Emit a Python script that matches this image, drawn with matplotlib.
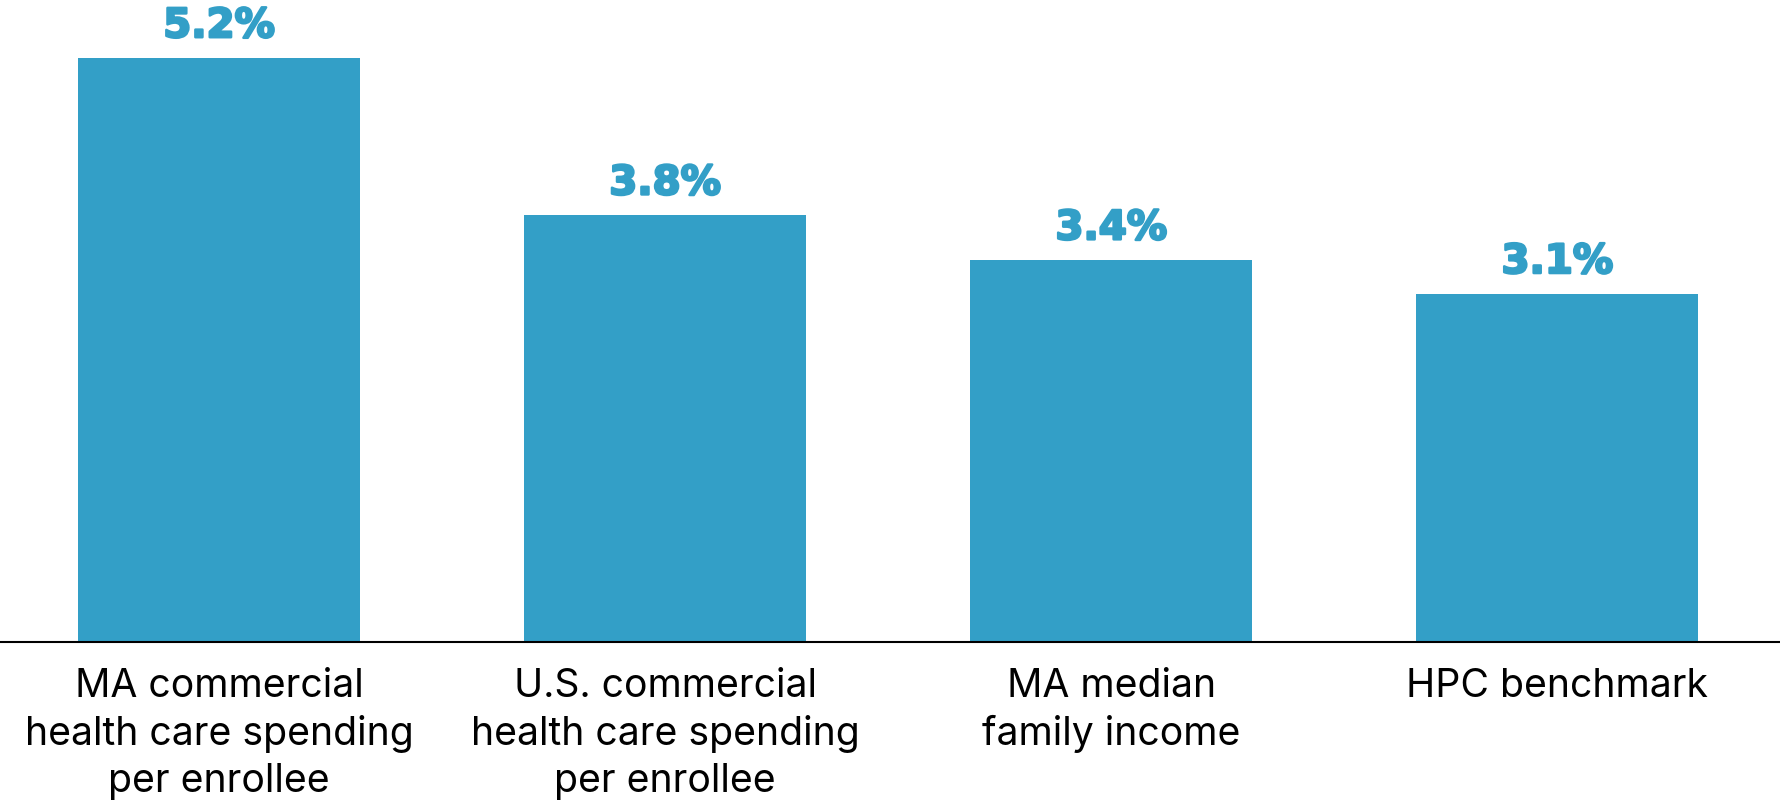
import matplotlib.pyplot as plt
import matplotlib.patheffects as pe

plt.rcParams['font.family'] = ['Inter', 'DejaVu Sans']

categories = ['MA commercial\nhealth care spending\nper enrollee',
              'U.S. commercial\nhealth care spending\nper enrollee',
              'MA median\nfamily income',
              'HPC benchmark']
growth = [5.2, 3.8, 3.4, 3.1]
bar_color = '#339fc7'

fig = plt.figure(figsize=(17.8, 8.02), dpi=100)
ax = fig.add_axes([0, 0.1995, 1, 0.8005])

x = range(len(categories))
bars = ax.bar(x, growth, width=0.632, color=bar_color)

# heavy value labels above each bar
heavy = [pe.withStroke(linewidth=1.8, foreground=bar_color)]
for b, v in zip(bars, growth):
    ax.annotate(f'{v:.1f}%', (b.get_x() + b.get_width() / 2, v),
                xytext=(0, 15), textcoords='offset points',
                ha='center', va='baseline', color=bar_color,
                fontsize=29, fontfamily='DejaVu Sans', fontweight='bold',
                path_effects=heavy)

ax.set_xlim(-0.491, 3.499)
ax.set_ylim(0, 5.717)
ax.set_xticks(list(x))
ax.set_xticklabels(categories, fontsize=28.2, linespacing=1.33)
ax.tick_params(axis='x', length=0, pad=19)
ax.set_yticks([])
for s in ['top', 'left', 'right']:
    ax.spines[s].set_visible(False)
ax.spines['bottom'].set_linewidth(1.5)

plt.savefig('out.png')
